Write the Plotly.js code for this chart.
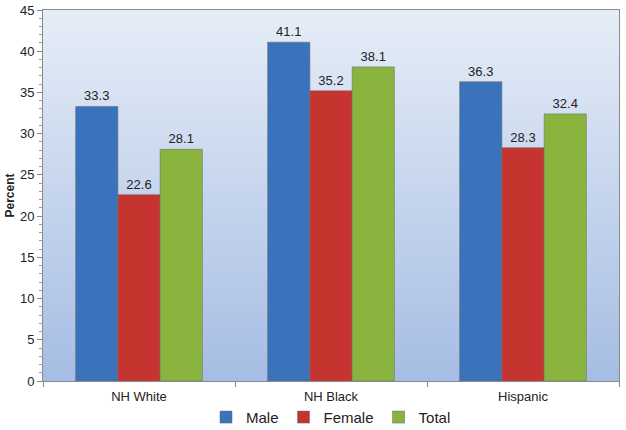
<!DOCTYPE html>
<html>
<head>
<meta charset="utf-8">
<script src="https://cdn.plot.ly/plotly-3.0.1.min.js"></script>
<style>html,body{margin:0;padding:0;background:#fff;}#chart{width:626px;height:430px;}</style>
</head>
<body>
<div id="chart"></div>
<script>
var categories = ["NH White", "NH Black", "Hispanic"];
var male = [33.3, 41.1, 36.3];
var female = [22.6, 35.2, 28.3];
var total = [28.1, 38.1, 32.4];
var seriesNames = ["Male", "Female", "Total"];
var seriesColors = ["#3a72bb", "#c5342f", "#8ab43e"];

var values = [male, female, total];
var traces = values.map(function (v, i) {
  return {
    type: "bar",
    name: seriesNames[i],
    x: categories,
    y: v,
    text: v.map(function (d) { return d.toFixed(1); }),
    textposition: "outside",
    cliponaxis: false,
    textfont: { family: "Liberation Sans, Arial, sans-serif", size: 13, color: "#222" },
    marker: { color: seriesColors[i], line: { color: "rgba(110,110,110,0.55)", width: 1 } },
    hoverinfo: "none"
  };
});

var grad = 'data:image/svg+xml;utf8,' + encodeURIComponent(
  '<svg xmlns="http://www.w3.org/2000/svg" width="10" height="100" preserveAspectRatio="none">' +
  '<defs><linearGradient id="g" x1="0" y1="0" x2="0" y2="1">' +
  '<stop offset="0" stop-color="#e6edf7"/><stop offset="1" stop-color="#a5bde3"/>' +
  '</linearGradient></defs><rect width="10" height="100" fill="url(#g)"/></svg>');

var layout = {
  width: 626, height: 430,
  margin: { l: 43, r: 7, t: 10, b: 49, autoexpand: false },
  paper_bgcolor: "#ffffff",
  plot_bgcolor: "rgba(0,0,0,0)",
  barmode: "group",
  bargap: 0.34,
  bargroupgap: 0,
  font: { family: "Liberation Sans, Arial, sans-serif", size: 13, color: "#222" },
  showlegend: true,
  legend: {
    orientation: "h", x: 0.5, xanchor: "center", y: -0.098, yanchor: "middle",
    font: { size: 15, color: "#222" }, itemwidth: 30, traceorder: "normal",
    tracegroupgap: 0
  },
  images: [{
    source: grad, xref: "paper", yref: "paper", x: 0, y: 1, sizex: 1, sizey: 1,
    xanchor: "left", yanchor: "top", sizing: "stretch", layer: "below"
  }],
  xaxis: {
    type: "category",
    showline: true, linecolor: "#8a8a8a", linewidth: 1, mirror: true,
    ticks: "outside", tickson: "boundaries", ticklen: 5, tickcolor: "#8a8a8a",
    ticklabelstandoff: 3,
    showgrid: false, tickfont: { size: 13, color: "#222" }, fixedrange: true
  },
  yaxis: {
    range: [0, 45], dtick: 5, tick0: 0,
    showline: true, linecolor: "#8a8a8a", linewidth: 1, mirror: true,
    ticks: "outside", ticklen: 5, tickcolor: "#8a8a8a",
    minor: { dtick: 1, ticks: "outside", ticklen: 3, tickcolor: "#9a9a9a", showgrid: false },
    showgrid: false, zeroline: false,
    tickfont: { size: 13, color: "#222" },
    title: { text: "<b>Percent</b>", font: { size: 12, color: "#222" }, standoff: 2 },
    fixedrange: true
  }
};

Plotly.newPlot("chart", traces, layout, { displayModeBar: false, staticPlot: true });
</script>
</body>
</html>
